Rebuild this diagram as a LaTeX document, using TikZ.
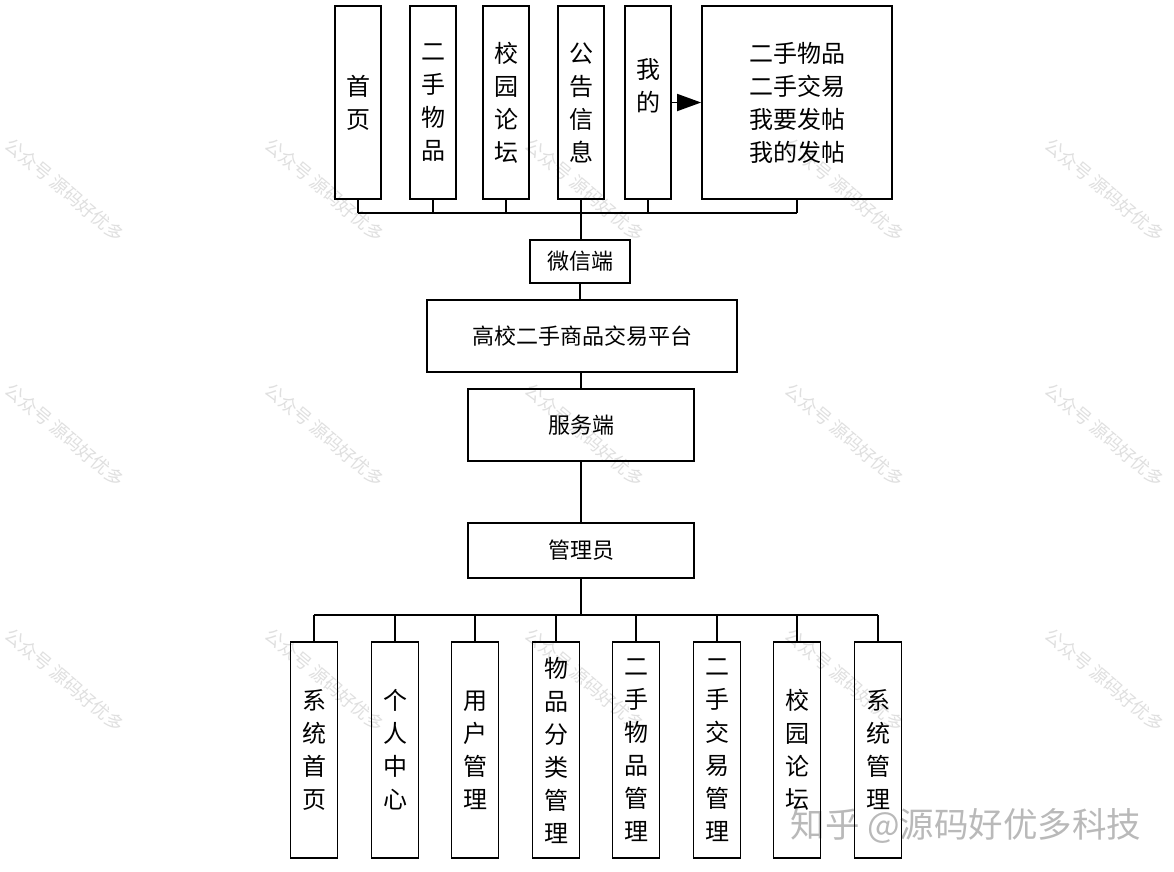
\documentclass[tikz,border=0pt]{standalone}
\usepackage{fontspec}
\newfontfamily\cjk{Noto Sans CJK SC}
\usetikzlibrary{arrows.meta, positioning}

\begin{document}
\begin{tikzpicture}[x=1pt, y=-1pt]
  \tikzset{
    colbox/.style={draw, line width=1.8pt, minimum width=46pt, minimum height=193pt,
      inner sep=0pt, align=center, font=\cjk\fontsize{24}{33}\selectfont},
    lowbox/.style={colbox, minimum width=47pt, minimum height=216pt},
    midbox/.style={draw, line width=1.8pt, inner sep=0pt, font=\cjk\fontsize{22}{24}\selectfont},
    link/.style={line width=1.8pt},
    trunk/.style={line width=2.8pt},
    wmark/.style={gray!25, font=\cjk\fontsize{18}{18}\selectfont, rotate=-40},
  }
  \useasboundingbox (0,0) rectangle (1174,871);

  % watermarks
  \foreach \wx in {65,325,585,845,1105}
    \foreach \wy in {190,435,680}
      \node[wmark] (wm-\wx-\wy) at (\wx,\wy) {公众号 源码好优多};
  \node[gray!55, font=\cjk\fontsize{34.5}{34.5}\selectfont] (zhihu) at (966,826) {知乎 @源码好优多科技};

  % WeChat side
  \node[colbox] (home) at (358,102.5) {首\\页};
  \node[colbox] (goods) at (433,102.5) {二\\手\\物\\品};
  \node[colbox] (forum) at (506,102.5) {校\\园\\论\\坛};
  \node[colbox] (notice) at (581,102.5) {公\\告\\信\\息};
  \node[colbox] (mine) at (648,102.5) {我\\的\\\phantom{我}};
  \node[colbox, minimum width=190pt] (minelist) at (797,102.5)
    {二手物品\\二手交易\\我要发帖\\我的发帖};
  \draw[link, -{Triangle[length=24pt, width=17pt]}] (mine.east) -- (minelist.west);

  \coordinate (topbus) at (581,213);
  \draw[link] (home.south |- topbus) -- (minelist.south |- topbus);
  \foreach \n in {home, goods, forum, mine, minelist}
    \draw[link] (\n.south) -- (\n.south |- topbus);

  % centre column
  \node[midbox, minimum width=100pt, minimum height=43pt] (wx) at (580,261.5) {微信端};
  \node[midbox, minimum width=310pt, minimum height=72pt] (platform) at (582,336) {高校二手商品交易平台};
  \node[midbox, minimum width=226pt, minimum height=72pt] (server) at (581,425) {服务端};
  \node[midbox, minimum width=226pt, minimum height=55pt] (admin) at (581,550.5) {管理员};

  \draw[trunk] (notice.south) -- (wx.north -| notice.south);
  \draw[link] (wx.south) -- (wx.south |- platform.north);
  \draw[link] (platform.south -| server.north) -- (server.north);
  \draw[link] (server.south) -- (admin.north);

  % admin side
  \foreach \n/\x/\t in {b1/314/系\\统\\首\\页, b2/395/个\\人\\中\\心, b3/475/用\\户\\管\\理,
      b4/556/物\\品\\分\\类\\管\\理, b5/636/二\\手\\物\\品\\管\\理, b6/717/二\\手\\交\\易\\管\\理,
      b7/797/校\\园\\论\\坛, b8/878/系\\统\\管\\理}
    \node[lowbox] (\n) at (\x,750) {\t};

  \coordinate (lowbus) at (581,615);
  \draw[trunk] (admin.south) -- (lowbus);
  \draw[link] (b1.north |- lowbus) -- (b8.north |- lowbus);
  \foreach \n in {b1,b2,b3,b4,b5,b6,b7,b8}
    \draw[link] (\n.north |- lowbus) -- (\n.north);
\end{tikzpicture}
\end{document}
